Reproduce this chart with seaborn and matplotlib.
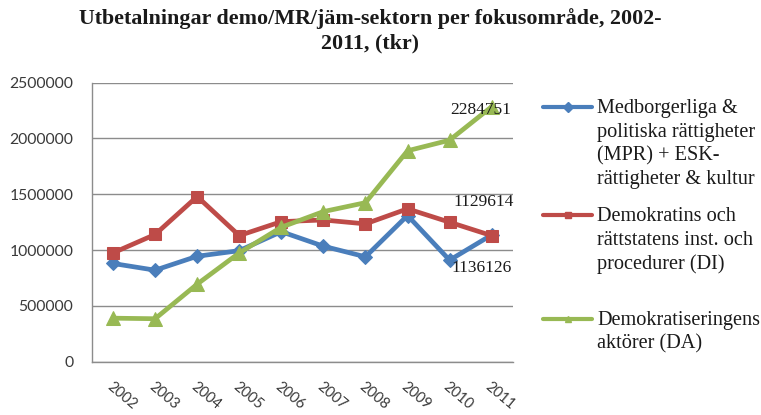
import matplotlib
matplotlib.use("Agg")
import matplotlib.pyplot as plt
from matplotlib.lines import Line2D
import seaborn as sns
import pandas as pd

years = ["2002", "2003", "2004", "2005", "2006", "2007", "2008", "2009", "2010", "2011"]
mpr = [880000, 820000, 945000, 995000, 1165000, 1035000, 940000, 1310000, 910000, 1136126]
di = [975000, 1140000, 1480000, 1130000, 1255000, 1270000, 1235000, 1370000, 1250000, 1129614]
da = [390000, 385000, 695000, 975000, 1205000, 1345000, 1425000, 1890000, 1985000, 2284751]

labels = ["Medborgerliga &\npolitiska rättigheter\n(MPR) + ESK-\nrättigheter & kultur",
          "Demokratins och\nrättstatens inst. och\nprocedurer (DI)",
          "Demokratiseringens\naktörer (DA)"]
title = "Utbetalningar demo/MR/jäm-sektorn per fokusområde, 2002-\n2011, (tkr)"
yticks = [0, 500000, 1000000, 1500000, 2000000, 2500000]

colors = ["#4a7ebb", "#be4b48", "#98b954"]
markers = ["D", "s", "^"]
msizes = [7.5, 9, 9.5]

sns.set_theme(style="white")
W, H = 761, 415
fig = plt.figure(figsize=(W / 100, H / 100), dpi=100)
ax = fig.add_axes([92 / W, 1 - 361.7 / H, (512.7 - 92) / W, (361.7 - 82.7) / H])

series = [mpr, di, da]
for vals, c, m, ms in zip(series, colors, markers, msizes):
    df = pd.DataFrame({"year": years, "value": vals})
    sns.lineplot(data=df, x="year", y="value", ax=ax, color=c, marker=m,
                 markersize=ms, markeredgecolor=c, linewidth=3.4, sort=False)

ax.set_xlim(-0.5, len(years) - 0.5)
ax.set_ylim(0, 2500000)
ax.set_yticks(yticks)
ax.set_yticklabels([str(v) for v in yticks], fontfamily="Lato", fontsize=11.3, color="#3a3a3a")
ax.set_xticks(range(len(years)))
ax.set_xticklabels(years, rotation=-40, ha="left", va="top", rotation_mode="anchor",
                   fontfamily="Lato", fontsize=10.5, color="#3a3a3a")
ax.tick_params(axis="x", length=0, pad=13)
ax.tick_params(axis="y", length=0, pad=13.5)
ax.set_xlabel("")
ax.set_ylabel("")
ax.yaxis.grid(True, color="#8c8c8c", linewidth=1)
ax.set_axisbelow(True)
for s in ["top", "right"]:
    ax.spines[s].set_visible(False)
for s in ["left", "bottom"]:
    ax.spines[s].set_color("#8c8c8c")
    ax.spines[s].set_linewidth(1)

# data labels
lbl_font = dict(fontfamily="Liberation Serif", fontsize=12.5, color="#1a1a1a", ha="center", va="center")
n = len(years) - 1
ax.annotate(str(da[-1]), xy=(n, da[-1]), xytext=(-7.6, -2.4), textcoords="offset points", **lbl_font)
ax.annotate(str(di[-1]), xy=(n, di[-1]), xytext=(-6, 24), textcoords="offset points", **lbl_font)
ax.annotate(str(mpr[-1]), xy=(n, mpr[-1]), xytext=(-7.6, -23.8), textcoords="offset points", **lbl_font)

# title
fig.text(370 / W, 1 - 31 / H, title, ha="center", va="center", fontfamily="Liberation Serif",
         fontweight="bold", fontsize=15.8, color="#1a1a1a", linespacing=1.3)

# legend (manual)
first_line_y = [107, 215, 319]
for lab, c, m, y in zip(labels, colors, markers, first_line_y):
    fy = 1 - y / H
    fig.add_artist(Line2D([543 / W, 592 / W], [fy, fy], color=c, linewidth=3,
                          transform=fig.transFigure))
    fig.add_artist(Line2D([567.5 / W], [fy], color=c, marker=m, markersize=5,
                          markeredgecolor=c, transform=fig.transFigure))
    fig.text(597 / W, 1 - (y - 8) / H, lab, ha="left", va="top", fontfamily="Liberation Serif",
             fontsize=14.6, color="#1a1a1a", linespacing=1.33)

fig.savefig("out.png", dpi=100, facecolor="white")
